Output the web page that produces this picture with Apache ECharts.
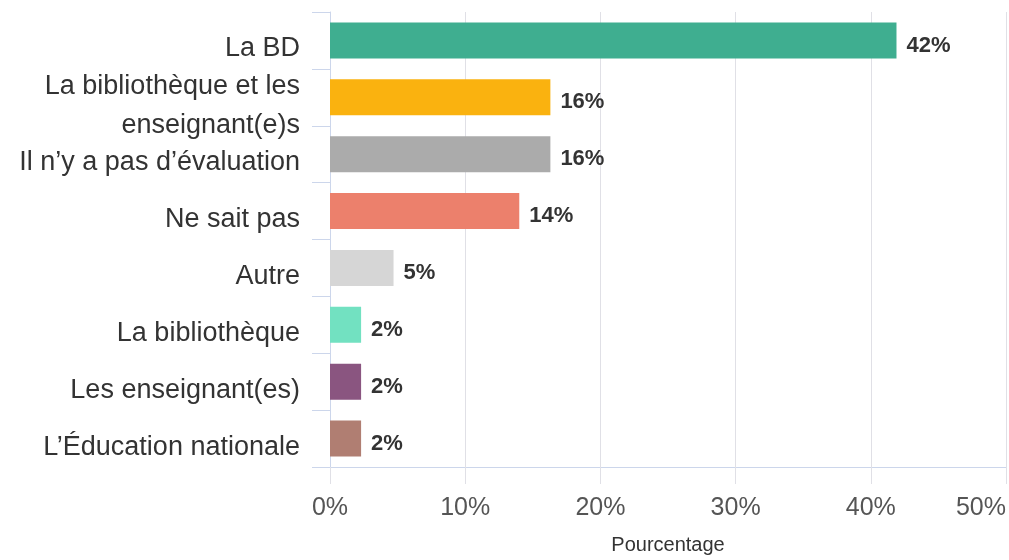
<!DOCTYPE html>
<html>
<head>
<meta charset="utf-8">
<script src="https://cdn.jsdelivr.net/npm/echarts@6/dist/echarts.min.js"></script>
<style>
  html, body { margin: 0; padding: 0; background: #ffffff; }
  #chart { width: 1009px; height: 560px; }
</style>
</head>
<body>
<div id="chart"></div>
<script>
// Answers, top to bottom
var categories = [
  'La BD',
  'La bibliothèque et les enseignant(e)s',
  'Il n\u2019y a pas d\u2019évaluation',
  'Ne sait pas',
  'Autre',
  'La bibliothèque',
  'Les enseignant(es)',
  'L\u2019Éducation nationale'
];
// Share of respondents (%)
var shares = [41.9, 16.3, 16.3, 14.0, 4.7, 2.3, 2.3, 2.3];
var barColors = ['#3fae90', '#fab20f', '#ababab', '#ec806c', '#d6d6d6', '#72e1c1', '#8a5580', '#b07e72'];
var xTicks = [0, 10, 20, 30, 40, 50];
var xTitle = 'Pourcentage';

var FONT = '"Liberation Sans", Arial, sans-serif';

// Greedy word wrap for long category names
function wrapLabel(text, maxChars) {
  var words = text.split(' ');
  var lines = [];
  var cur = '';
  words.forEach(function (w) {
    var next = cur ? cur + ' ' + w : w;
    if (next.length > maxChars && cur) {
      lines.push(cur);
      cur = w;
    } else {
      cur = next;
    }
  });
  if (cur) lines.push(cur);
  return lines;
}

var chart = echarts.init(document.getElementById('chart'), null, { renderer: 'canvas' });

chart.setOption({
  animation: false,
  textStyle: { fontFamily: FONT },
  grid: { left: 330, right: 3, top: 12, bottom: 91, containLabel: false },
  xAxis: {
    type: 'value',
    min: xTicks[0],
    max: xTicks[xTicks.length - 1],
    interval: xTicks[1] - xTicks[0],
    name: xTitle,
    nameLocation: 'middle',
    nameGap: 68,
    nameTextStyle: { fontSize: 20, color: '#333333', fontFamily: FONT },
    axisLine: { show: true, lineStyle: { color: '#ccd6eb', width: 1 } },
    axisTick: { show: true, length: 17, lineStyle: { color: '#e0e0e6' } },
    splitLine: { show: true, lineStyle: { color: '#e0e0e6', width: 1 } },
    axisLabel: {
      fontSize: 25,
      color: '#555555',
      margin: 29,
      fontFamily: FONT,
      alignMaxLabel: 'right',
      formatter: function (v) { return v + '%'; }
    }
  },
  yAxis: {
    type: 'category',
    inverse: true,
    data: categories,
    axisLine: { show: true, lineStyle: { color: '#ccd6eb', width: 1 } },
    axisTick: { show: true, length: 18, alignWithLabel: false, lineStyle: { color: '#ccd6eb' } },
    splitLine: { show: false },
    axisLabel: {
      interval: 0,
      showMinLabel: true,
      showMaxLabel: true,
      margin: 30,
      color: '#333333',
      fontFamily: FONT,
      formatter: function (v) {
        var lines = wrapLabel(v, 26).map(function (l) { return '{t|' + l + '}'; });
        return '{s| }\n' + lines.join('\n');
      },
      rich: {
        s: { height: 17, lineHeight: 17, fontSize: 4 },
        t: { fontSize: 27, lineHeight: 39, color: '#333333', fontFamily: FONT }
      }
    }
  },
  series: [{
    type: 'bar',
    barWidth: 36,
    data: shares.map(function (v, i) {
      return { value: v, itemStyle: { color: barColors[i] } };
    }),
    label: {
      show: true,
      position: 'right',
      distance: 10,
      offset: [0, 5],
      fontSize: 22,
      fontWeight: 'bold',
      color: '#333333',
      fontFamily: FONT,
      formatter: function (p) { return Math.round(p.value) + '%'; }
    }
  }]
});
</script>
</body>
</html>
